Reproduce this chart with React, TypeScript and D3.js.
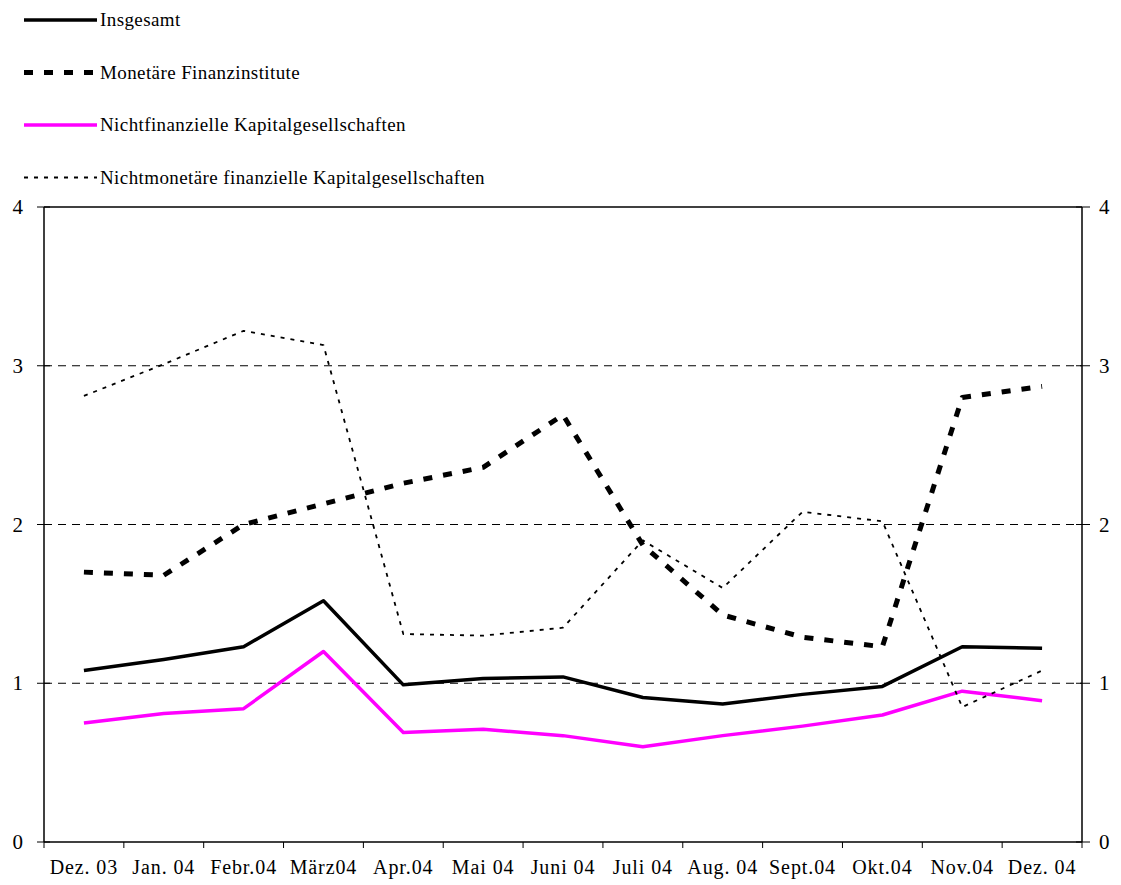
import React from 'react';
import * as d3 from 'd3';

const months = ['Dez. 03', 'Jan. 04', 'Febr.04', 'März04', 'Apr.04', 'Mai 04', 'Juni 04', 'Juli 04', 'Aug. 04', 'Sept.04', 'Okt.04', 'Nov.04', 'Dez. 04'];
const insgesamt = [1.08, 1.15, 1.23, 1.52, 0.99, 1.03, 1.04, 0.91, 0.87, 0.93, 0.98, 1.23, 1.22];
const monetaere = [1.70, 1.68, 2.0, 2.13, 2.26, 2.36, 2.69, 1.87, 1.43, 1.29, 1.23, 2.80, 2.87];
const nichtfinanzielle = [0.75, 0.81, 0.84, 1.20, 0.69, 0.71, 0.67, 0.60, 0.67, 0.73, 0.80, 0.95, 0.89];
const nichtmonetaere = [2.81, 3.01, 3.22, 3.13, 1.31, 1.30, 1.35, 1.90, 1.60, 2.08, 2.02, 0.85, 1.08];
const yTicks = [0, 1, 2, 3, 4];

const series = [
  { name: 'Insgesamt', values: insgesamt, color: '#000', width: 3.5, dash: 'none' },
  { name: 'Monetäre Finanzinstitute', values: monetaere, color: '#000', width: 5, dash: '9,11' },
  { name: 'Nichtfinanzielle Kapitalgesellschaften', values: nichtfinanzielle, color: '#ff00ff', width: 3.5, dash: 'none' },
  { name: 'Nichtmonetäre finanzielle Kapitalgesellschaften', values: nichtmonetaere, color: '#000', width: 1.8, dash: '4,6' },
];

const font = '"Liberation Serif", "Times New Roman", serif';

export default function App() {
  const W = 1121, H = 885;
  const left = 44, right = 1082, top = 207, bottom = 842;

  const x = d3.scaleBand().domain(months).range([left, right]);
  const y = d3.scaleLinear().domain([0, 4]).range([bottom, top]);
  const line = d3.line<number>()
    .x((_, i) => (x(months[i]) as number) + x.bandwidth() / 2)
    .y(d => y(d));

  const boundaries = months.map(m => x(m) as number).concat([right]);

  return (
    <svg width={W} height={H} style={{ position: 'absolute', left: 0, top: 0, background: '#fff' }} fontFamily={font}>
      {/* legend */}
      {series.map((s, i) => {
        const ly = 20 + i * 52.5;
        return (
          <g key={s.name}>
            <line x1={24} x2={97} y1={ly} y2={ly} stroke={s.color} strokeWidth={s.width} strokeDasharray={s.dash} />
            <text x={100} y={ly + 6} fontSize={19} letterSpacing={0.4}>{s.name}</text>
          </g>
        );
      })}

      {/* gridlines */}
      {yTicks.filter(t => t > 0 && t < 4).map(t => (
        <line key={t} x1={left} x2={right} y1={y(t)} y2={y(t)} stroke="#000" strokeWidth={1} strokeDasharray="8,6" />
      ))}

      {/* plot frame */}
      <line x1={left} x2={right} y1={top} y2={top} stroke="#000" strokeWidth={1.5} />
      <line x1={left} x2={right} y1={bottom} y2={bottom} stroke="#000" strokeWidth={1.5} />
      <line x1={left} x2={left} y1={top} y2={bottom} stroke="#000" strokeWidth={1.5} />
      <line x1={right} x2={right} y1={top} y2={bottom} stroke="#000" strokeWidth={1.5} />

      {/* y ticks and labels */}
      {yTicks.map(t => (
        <g key={t}>
          <line x1={left - 7} x2={left + 6} y1={y(t)} y2={y(t)} stroke="#000" strokeWidth={1} />
          <line x1={right - 6} x2={right + 8} y1={y(t)} y2={y(t)} stroke="#000" strokeWidth={1} />
          <text x={23} y={y(t) + 7} fontSize={21} textAnchor="end">{t}</text>
          <text x={1099} y={y(t) + 7} fontSize={21}>{t}</text>
        </g>
      ))}

      {/* x ticks and labels */}
      {boundaries.map((b, i) => (
        <line key={i} x1={b} x2={b} y1={bottom} y2={bottom + 6} stroke="#000" strokeWidth={1} />
      ))}
      {months.map(m => (
        <text key={m} x={(x(m) as number) + x.bandwidth() / 2} y={874} fontSize={20} letterSpacing={0.9} textAnchor="middle">{m}</text>
      ))}

      {/* series */}
      {series.map(s => (
        <path key={s.name} d={line(s.values) || ''} fill="none" stroke={s.color} strokeWidth={s.width} strokeDasharray={s.dash} strokeLinejoin="round" />
      ))}
    </svg>
  );
}
